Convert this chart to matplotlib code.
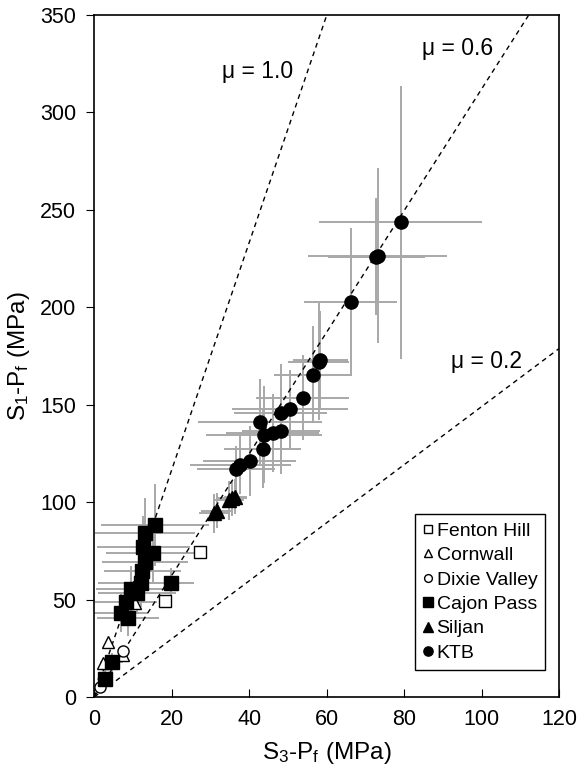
#Description : stress ratio S1-Pf vs S3-Pf for deep boreholes with frictional limit lines

#import libraries
import numpy as np
import matplotlib.pyplot as plt

plt.rcParams['font.family'] = ['Liberation Sans', 'DejaVu Sans']
plt.rcParams['mathtext.fontset'] = 'custom'
plt.rcParams['mathtext.rm'] = 'Liberation Sans'
plt.rcParams['mathtext.it'] = 'Liberation Sans:italic'

#friction lines (slope of S1-Pf / S3-Pf)
mu_labels = ['\u03bc = 1.0', '\u03bc = 0.6', '\u03bc = 0.2']
mu_slopes = [5.83, 3.12, 1.49]

#Fenton Hill
fh_x = [27.3, 18.3]
fh_y = [74.5, 49.4]

#Cornwall
cw_x = [3.6, 2.3, 7.3, 10.5]
cw_y = [28.4, 17.3, 21.5, 48.4]

#Dixie Valley
dv_x = [7.5, 1.6]
dv_y = [23.7, 5.0]

#Cajon Pass
cp_x = [15.7, 13.1, 12.7, 15.1, 13.1, 12.4, 12.0, 9.4, 11.0, 8.2, 6.8, 8.8, 19.8, 4.5, 2.8]
cp_y = [88.2, 84.3, 76.8, 74.0, 69.4, 64.8, 58.3, 55.2, 53.5, 48.9, 43.2, 40.3, 58.3, 17.8, 9.2]
cp_xerr = [14, 13, 12, 12, 11, 10, 11, 9, 10, 8, 7, 8, 6, 3, 2]
cp_yerr = [21, 18, 16, 15, 14, 15, 12, 12, 11, 10, 10, 9, 8, 5, 5]

#Siljan
sj_x = [31.0, 31.6, 34.7, 35.5, 36.4]
sj_y = [94.2, 95.5, 101.0, 102.0, 102.7]
sj_xerr = [4, 4, 4, 4, 3]
sj_yerr = [10, 9, 10, 9, 9]

#KTB
ktb_x = [36.6, 37.7, 40.1, 43.5, 42.7, 43.9, 46.1, 48.2, 48.2, 50.6, 53.8, 56.5, 57.9, 58.4, 66.2, 72.8, 73.2, 79.1]
ktb_y = [116.9, 119.3, 121.0, 127.2, 141.0, 134.7, 135.7, 136.6, 146.0, 147.7, 153.7, 165.5, 172.0, 173.2, 202.6, 226.0, 226.5, 243.6]
ktb_xerr = [10, 13, 12, 10, 16, 15, 12, 10, 12, 15, 12, 10, 8, 7, 12, 12.5, 18, 21]
ktb_yerr = [12, 15, 18, 20, 22, 25, 20, 22, 25, 20, 22, 25, 30, 25, 38, 30, 45, 70]

fig = plt.figure(figsize=(5.77, 7.79), dpi=100)
ax = fig.add_axes([0.1634, 0.1053, 0.8054, 0.8754])

#error bars
ebar = dict(fmt='none', ecolor='#a8a8a8', elinewidth=1.4, capsize=0, zorder=1)
ax.errorbar(cp_x, cp_y, xerr=cp_xerr, yerr=cp_yerr, **ebar)
ax.errorbar(sj_x, sj_y, xerr=sj_xerr, yerr=sj_yerr, **ebar)
ax.errorbar(ktb_x, ktb_y, xerr=ktb_xerr, yerr=ktb_yerr, **ebar)

#friction lines
xx = np.array([0, 120])
for s in mu_slopes:
    ax.plot(xx, s * xx, color='black', lw=1.0, ls=(0, (3.5, 3)), zorder=2)

#data points
ax.plot(fh_x, fh_y, 's', mfc='white', mec='black', mew=1.0, ms=9, ls='none', zorder=3, label='Fenton Hill')
ax.plot(cw_x, cw_y, '^', mfc='white', mec='black', mew=1.0, ms=9, ls='none', zorder=3, label='Cornwall')
ax.plot(dv_x, dv_y, 'o', mfc='white', mec='black', mew=1.0, ms=8, ls='none', zorder=3, label='Dixie Valley')
ax.plot(cp_x, cp_y, 's', color='black', ms=10, ls='none', zorder=3, label='Cajon Pass')
ax.plot(sj_x, sj_y, '^', color='black', ms=10, ls='none', zorder=3, label='Siljan')
ax.plot(ktb_x, ktb_y, 'o', color='black', ms=9.5, ls='none', zorder=3, label='KTB')

#line labels
mu_pos = [(33, 321), (84.5, 333), (92, 172)]
for lab, (tx, ty) in zip(mu_labels, mu_pos):
    ax.text(tx, ty, lab, fontsize=16.5, va='center', ha='left')

ax.set_xlim(0, 120)
ax.set_ylim(0, 350)
ax.set_xticks(np.arange(0, 121, 20))
ax.set_yticks(np.arange(0, 351, 50))
ax.tick_params(axis='x', direction='in', length=6, labelsize=15.5, pad=9)
ax.tick_params(axis='y', direction='out', length=6, labelsize=15.5, pad=7)
ax.set_xlabel(r'S$_\mathrm{3}$-P$_\mathrm{f}$ (MPa)', fontsize=17.5, labelpad=7)
ax.set_ylabel(r'S$_\mathrm{1}$-P$_\mathrm{f}$ (MPa)', fontsize=17.5, labelpad=6)
for sp in ax.spines.values():
    sp.set_linewidth(1.2)

leg = ax.legend(loc='lower right', bbox_to_anchor=(0.97, 0.04), fontsize=14, markerscale=0.7,
                handlelength=0.5, handletextpad=0.2, borderpad=0.4, labelspacing=0.35,
                borderaxespad=0, fancybox=False, framealpha=1, edgecolor='black')
leg.get_frame().set_linewidth(1.0)

plt.savefig('out.png', dpi=100)
